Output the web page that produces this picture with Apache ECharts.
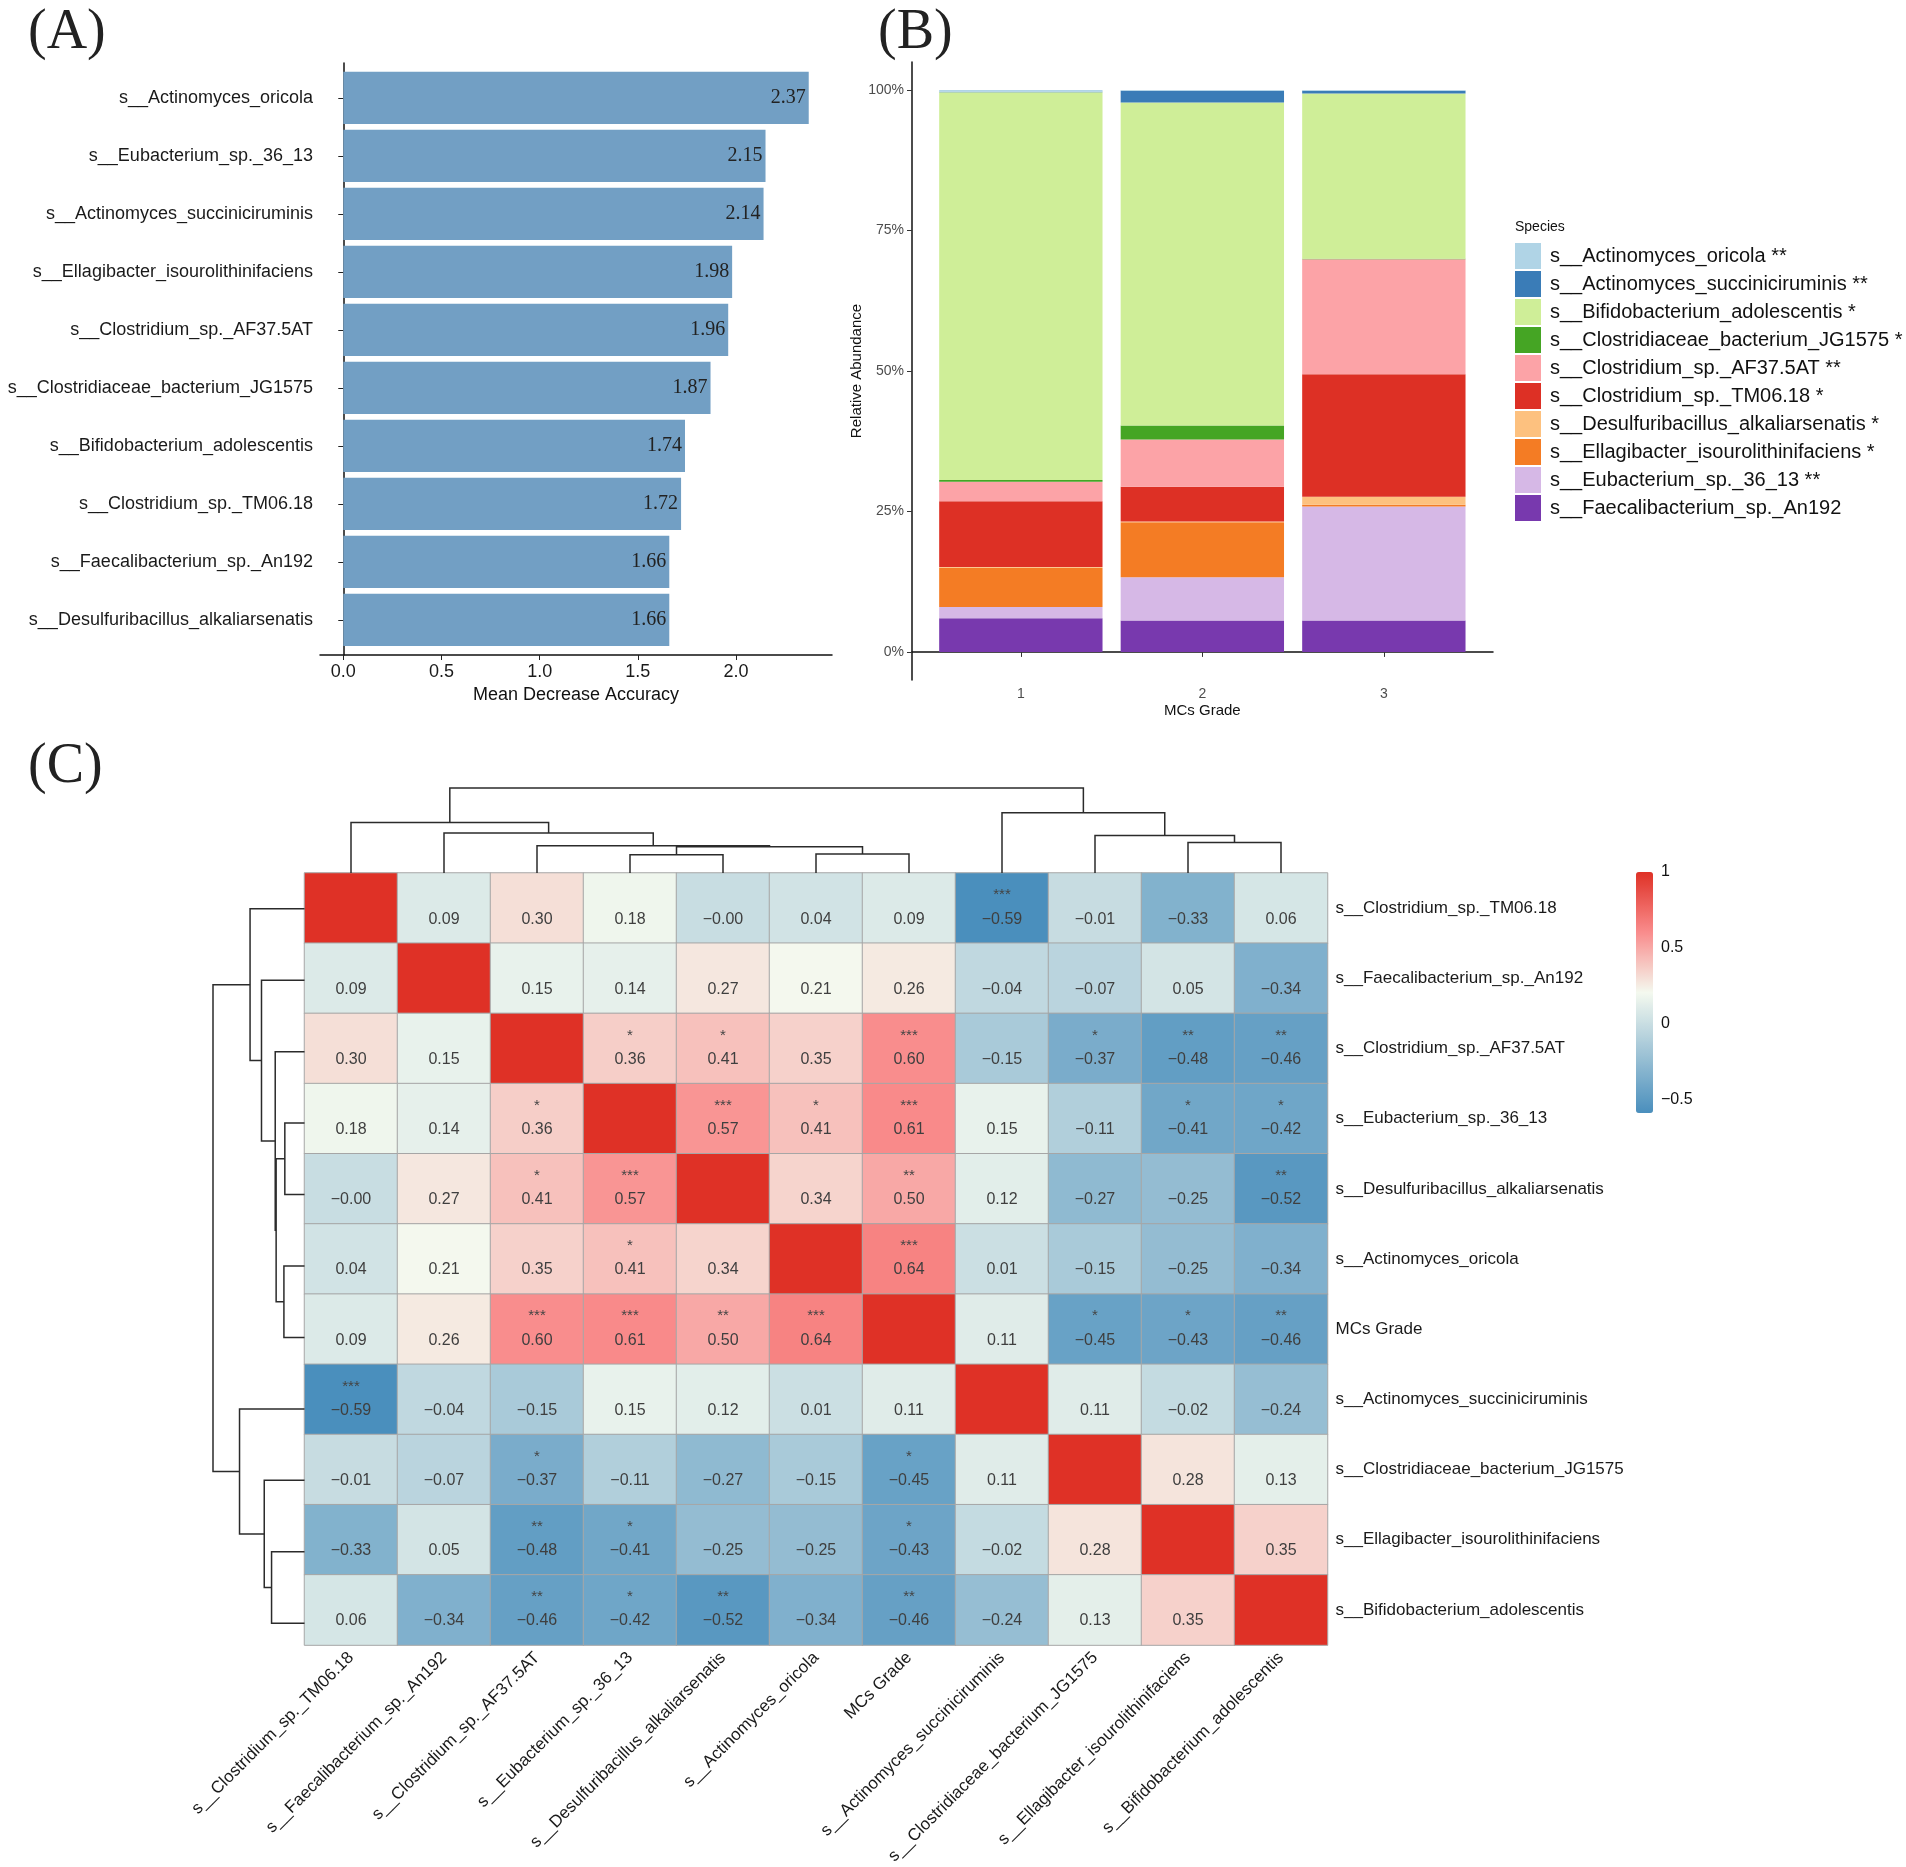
<!DOCTYPE html>
<html>
<head>
<meta charset="utf-8">
<script src="https://cdn.jsdelivr.net/npm/echarts@6/dist/echarts.min.js"></script>
<style>
  html, body { margin: 0; padding: 0; background: #fff; }
  #main { width: 1906px; height: 1867px; }
</style>
</head>
<body>
<div id="main"></div>
<script>
// (A) random forest importance
var featureNames = ['s__Actinomyces_oricola', 's__Eubacterium_sp._36_13', 's__Actinomyces_succiniciruminis',
  's__Ellagibacter_isourolithinifaciens', 's__Clostridium_sp._AF37.5AT', 's__Clostridiaceae_bacterium_JG1575',
  's__Bifidobacterium_adolescentis', 's__Clostridium_sp._TM06.18', 's__Faecalibacterium_sp._An192',
  's__Desulfuribacillus_alkaliarsenatis'];
var featureMDA = [2.37, 2.15, 2.14, 1.98, 1.96, 1.87, 1.74, 1.72, 1.66, 1.66];
var mdaTicks = [0, 0.5, 1, 1.5, 2];

// (B) relative abundance by grade (legend order), values in %
var grades = ['1', '2', '3'];
var speciesNames = ['s__Actinomyces_oricola', 's__Actinomyces_succiniciruminis', 's__Bifidobacterium_adolescentis',
  's__Clostridiaceae_bacterium_JG1575', 's__Clostridium_sp._AF37.5AT', 's__Clostridium_sp._TM06.18',
  's__Desulfuribacillus_alkaliarsenatis', 's__Ellagibacter_isourolithinifaciens', 's__Eubacterium_sp._36_13',
  's__Faecalibacterium_sp._An192'];
var speciesSig = ['**', '**', '*', '*', '**', '*', '*', '*', '**', ''];
var abOricola = [0.3, 0.1, 0.1];
var abSucciniciruminis = [0.1, 2.1, 0.5];
var abBifidobacterium = [69.0, 57.5, 29.4];
var abClostridiaceae = [0.3, 2.5, 0.1];
var abAF37 = [3.5, 8.4, 20.5];
var abTM06 = [11.7, 6.2, 21.8];
var abDesulfuribacillus = [0.1, 0.1, 1.4];
var abEllagibacter = [7.0, 9.8, 0.3];
var abEubacterium = [2.0, 7.7, 20.3];
var abFaecalibacterium = [6.0, 5.6, 5.6];
var speciesColors = ['#b0d4e6', '#3a7cb7', '#cfee98', '#45a524', '#fca3a7', '#dd3025', '#fdc17f', '#f47c24', '#d6b8e6', '#7839ae'];
var abundanceTicks = [0, 25, 50, 75, 100];

// (C) correlation heatmap (clustered order)
var corrNames = ['s__Clostridium_sp._TM06.18', 's__Faecalibacterium_sp._An192', 's__Clostridium_sp._AF37.5AT',
  's__Eubacterium_sp._36_13', 's__Desulfuribacillus_alkaliarsenatis', 's__Actinomyces_oricola', 'MCs Grade',
  's__Actinomyces_succiniciruminis', 's__Clostridiaceae_bacterium_JG1575', 's__Ellagibacter_isourolithinifaciens',
  's__Bifidobacterium_adolescentis'];
var corrValues = [
  [1, 0.09, 0.30, 0.18, -0.004, 0.04, 0.09, -0.59, -0.01, -0.33, 0.06],
  [0.09, 1, 0.15, 0.14, 0.27, 0.21, 0.26, -0.04, -0.07, 0.05, -0.34],
  [0.30, 0.15, 1, 0.36, 0.41, 0.35, 0.60, -0.15, -0.37, -0.48, -0.46],
  [0.18, 0.14, 0.36, 1, 0.57, 0.41, 0.61, 0.15, -0.11, -0.41, -0.42],
  [-0.004, 0.27, 0.41, 0.57, 1, 0.34, 0.50, 0.12, -0.27, -0.25, -0.52],
  [0.04, 0.21, 0.35, 0.41, 0.34, 1, 0.64, 0.01, -0.15, -0.25, -0.34],
  [0.09, 0.26, 0.60, 0.61, 0.50, 0.64, 1, 0.11, -0.45, -0.43, -0.46],
  [-0.59, -0.04, -0.15, 0.15, 0.12, 0.01, 0.11, 1, 0.11, -0.02, -0.24],
  [-0.01, -0.07, -0.37, -0.11, -0.27, -0.15, -0.45, 0.11, 1, 0.28, 0.13],
  [-0.33, 0.05, -0.48, -0.41, -0.25, -0.25, -0.43, -0.02, 0.28, 1, 0.35],
  [0.06, -0.34, -0.46, -0.42, -0.52, -0.34, -0.46, -0.24, 0.13, 0.35, 1]
];
var corrSig = [
  ['', '', '', '', '', '', '', '***', '', '', ''],
  ['', '', '', '', '', '', '', '', '', '', ''],
  ['', '', '', '*', '*', '', '***', '', '*', '**', '**'],
  ['', '', '*', '', '***', '*', '***', '', '', '*', '*'],
  ['', '', '*', '***', '', '', '**', '', '', '', '**'],
  ['', '', '', '*', '', '', '***', '', '', '', ''],
  ['', '', '***', '***', '**', '***', '', '', '*', '*', '**'],
  ['***', '', '', '', '', '', '', '', '', '', ''],
  ['', '', '*', '', '', '', '*', '', '', '', ''],
  ['', '', '**', '*', '', '', '*', '', '', '', ''],
  ['', '', '**', '*', '**', '', '**', '', '', '', '']
];
var colorbarTicks = [1, 0.5, 0, -0.5];
// hclust-style merges: negative = leaf (1-based), positive = earlier merge
var dendroMerge = [[-4, -5], [-6, -7], [1, 2], [-3, 3], [-2, 4], [-1, 5], [-10, -11], [-9, 7], [-8, 8], [6, 9]];
var dendroHeight = [0.215, 0.225, 0.31, 0.32, 0.47, 0.595, 0.36, 0.44, 0.71, 1.0];

var chart = echarts.init(document.getElementById('main'));
var sans = 'Liberation Sans, Arial, Helvetica, sans-serif';
var serif = 'Liberation Serif, Times New Roman, serif';

function minusSign(s) {
  return String(s).replace('-', '\u2212');
}

/** dendrogram segments [posA, hA, posB, hB, h] **/
function dendroSegments() {
  var pos = [], ht = [], segs = [];
  function child(id) {
    if (id < 0) return [-id - 1 + 0.5, 0];
    return [pos[id - 1], ht[id - 1]];
  }
  dendroMerge.forEach(function (m, k) {
    var a = child(m[0]), b = child(m[1]);
    segs.push([a[0], a[1], b[0], b[1], dendroHeight[k]]);
    pos[k] = (a[0] + b[0]) / 2;
    ht[k] = dendroHeight[k];
  });
  return segs;
}
var segs = dendroSegments();

function dendroRender(horizontal) {
  return function (params, api) {
    var pa = api.value(0), ha = api.value(1), pb = api.value(2), hb = api.value(3), h = api.value(4);
    var pts = horizontal
      ? [api.coord([ha, pa]), api.coord([h, pa]), api.coord([h, pb]), api.coord([hb, pb])]
      : [api.coord([pa, ha]), api.coord([pa, h]), api.coord([pb, h]), api.coord([pb, hb])];
    return {
      type: 'polyline',
      shape: {points: pts},
      style: {stroke: '#2b2b2b', lineWidth: 1.5, fill: null}
    };
  };
}

var heatData = [];
corrValues.forEach(function (row, i) {
  row.forEach(function (v, j) {
    heatData.push({value: [j, i, v], sig: corrSig[i][j], diag: i === j});
  });
});

var abundanceByName = [abOricola, abSucciniciruminis, abBifidobacterium, abClostridiaceae, abAF37, abTM06,
  abDesulfuribacillus, abEllagibacter, abEubacterium, abFaecalibacterium];
var legendNames = speciesNames.map(function (n, i) {
  return speciesSig[i] ? n + ' ' + speciesSig[i] : n;
});
var stackSeries = [];
for (var s = speciesNames.length - 1; s >= 0; s--) {
  stackSeries.push({
    name: legendNames[s],
    type: 'bar',
    stack: 'ab',
    xAxisIndex: 3,
    yAxisIndex: 3,
    barCategoryGap: '10%',
    itemStyle: {color: speciesColors[s]},
    data: abundanceByName[s]
  });
}

var option = {
  backgroundColor: '#fff',
  animation: false,
  textStyle: {fontFamily: sans},
  title: [
    {text: '(A)', left: 28, top: 5, padding: 0, textStyle: {fontFamily: serif, fontSize: 56, fontWeight: 'normal', color: '#222'}},
    {text: '(B)', left: 878, top: 5, padding: 0, textStyle: {fontFamily: serif, fontSize: 56, fontWeight: 'normal', color: '#222'}},
    {text: '(C)', left: 28, top: 739, padding: 0, textStyle: {fontFamily: serif, fontSize: 56, fontWeight: 'normal', color: '#222'}},
    {text: 'Species', left: 1515, top: 220, padding: 0, textStyle: {fontFamily: sans, fontSize: 14, fontWeight: 'normal', color: '#111'}}
  ],
  legend: {
    data: legendNames,
    orient: 'vertical',
    left: 1515,
    top: 243,
    padding: 0,
    itemWidth: 26,
    itemHeight: 26,
    itemGap: 2,
    icon: 'rect',
    selectedMode: false,
    textStyle: {fontSize: 20, color: '#111', padding: [0, 0, 0, 4]}
  },
  grid: [
    {left: 320, top: 63, width: 512, height: 592},          // 0 A axes
    {left: 320, top: 68.8, width: 512, height: 580},        // 1 A bars
    {left: 912, top: 62, width: 581, height: 618},          // 2 B axes
    {left: 930.1, top: 62, width: 544.5, height: 618},      // 3 B bars
    {left: 304.5, top: 873, width: 1023, height: 786},      // 4 heatmap
    {left: 213, top: 873, width: 91.5, height: 786},        // 5 row dendrogram
    {left: 304.5, top: 788, width: 1023, height: 85},       // 6 column dendrogram
    {left: 1636, top: 872, width: 17, height: 241}          // 7 colour bar labels
  ],
  xAxis: [
    {
      gridIndex: 0, type: 'value', min: -0.1185, max: 2.4885,
      axisLine: {show: true, lineStyle: {color: '#111', width: 1.5}},
      axisTick: {show: true, length: 5, customValues: mdaTicks, lineStyle: {color: '#222'}},
      axisLabel: {customValues: mdaTicks, margin: 8, fontSize: 18, color: '#1a1a1a',
        formatter: function (v) { return v.toFixed(1); }},
      splitLine: {show: false},
      name: 'Mean Decrease Accuracy', nameLocation: 'middle', nameGap: 31,
      nameTextStyle: {fontSize: 18, color: '#111'}
    },
    {gridIndex: 1, type: 'value', min: -0.1185, max: 2.4885, show: false},
    {
      gridIndex: 2, type: 'value', min: 0, max: 1,
      axisLine: {show: true, lineStyle: {color: '#111', width: 1.5}},
      axisTick: {show: false}, axisLabel: {show: false}, splitLine: {show: false}
    },
    {
      gridIndex: 3, type: 'category', data: grades,
      axisLine: {show: false},
      axisTick: {show: true, alignWithLabel: true, length: 5, lineStyle: {color: '#333'}},
      axisLabel: {margin: 7, fontSize: 14, color: '#4d4d4d'},
      name: 'MCs Grade', nameLocation: 'middle', nameGap: 23,
      nameTextStyle: {fontSize: 15, color: '#111'}
    },
    {
      gridIndex: 4, type: 'category', data: corrNames,
      axisLine: {show: false}, axisTick: {show: false},
      axisLabel: {rotate: 45, margin: 10, fontSize: 17, color: '#1a1a1a', interval: 0}
    },
    {gridIndex: 5, type: 'value', min: 0, max: 1, inverse: true, show: false},
    {gridIndex: 6, type: 'value', min: 0, max: 11, show: false},
    {gridIndex: 7, type: 'value', min: 0, max: 1, show: false}
  ],
  yAxis: [
    {
      gridIndex: 0, type: 'value', min: 0, max: 1,
      axisLine: {show: true, lineStyle: {color: '#111', width: 1.5}},
      axisTick: {show: false}, axisLabel: {show: false}, splitLine: {show: false}
    },
    {
      gridIndex: 1, type: 'category', data: featureNames, inverse: true,
      axisLine: {show: false},
      axisTick: {show: true, alignWithLabel: true, length: 5, lineStyle: {color: '#222'}},
      axisLabel: {margin: 7, fontSize: 18, color: '#1a1a1a'}
    },
    {
      gridIndex: 2, type: 'value', min: -5, max: 105,
      axisLine: {show: true, lineStyle: {color: '#111', width: 1.5}},
      axisTick: {show: true, length: 5, customValues: abundanceTicks, lineStyle: {color: '#333'}},
      axisLabel: {customValues: abundanceTicks, margin: 8, fontSize: 14, color: '#4d4d4d',
        formatter: function (v) { return v + '%'; }},
      splitLine: {show: false},
      name: 'Relative Abundance', nameLocation: 'middle', nameGap: 48, nameRotate: 90,
      nameTextStyle: {fontSize: 15, color: '#111'}
    },
    {gridIndex: 3, type: 'value', min: -5, max: 105, show: false},
    {
      gridIndex: 4, type: 'category', data: corrNames, inverse: true, position: 'right',
      axisLine: {show: false}, axisTick: {show: false},
      axisLabel: {margin: 8, fontSize: 17, color: '#1a1a1a', interval: 0}
    },
    {gridIndex: 5, type: 'value', min: 0, max: 11, inverse: true, show: false},
    {gridIndex: 6, type: 'value', min: 0, max: 1, show: false},
    {
      gridIndex: 7, type: 'value', min: -0.59, max: 1, position: 'right',
      axisLine: {show: false}, axisTick: {show: false}, splitLine: {show: false},
      axisLabel: {customValues: colorbarTicks, margin: 8, fontSize: 16, color: '#111',
        formatter: function (v) { return minusSign(v); }}
    }
  ],
  visualMap: {
    type: 'continuous',
    seriesIndex: 1,
    min: -0.59,
    max: 1,
    calculable: false,
    hoverLink: false,
    left: 1636,
    top: 872,
    padding: 0,
    itemWidth: 17,
    itemHeight: 241,
    text: null,
    inRange: {color: ['#4a8fbd', '#a0c4d6', '#f4f9ef', '#f98c8c', '#df3126']}
  },
  series: [
    {
      name: 'MDA',
      type: 'bar',
      xAxisIndex: 1,
      yAxisIndex: 1,
      barCategoryGap: '10%',
      itemStyle: {color: '#729fc4'},
      label: {
        show: true, position: 'insideRight', distance: 3,
        fontFamily: serif, fontSize: 20, color: '#222',
        formatter: function (p) { return p.value.toFixed(2); }
      },
      data: featureMDA
    },
    {
      name: 'corr',
      type: 'heatmap',
      xAxisIndex: 4,
      yAxisIndex: 4,
      itemStyle: {borderColor: '#a6a6a6', borderWidth: 1},
      emphasis: {disabled: true},
      label: {
        show: true,
        offset: [0, -1],
        formatter: function (p) {
          if (p.data.diag) return '';
          return '{s|' + (p.data.sig || ' ') + '}\n{v|' + minusSign(p.data.value[2].toFixed(2)) + '}';
        },
        rich: {
          s: {fontSize: 15, color: '#444', lineHeight: 24, align: 'center'},
          v: {fontSize: 16, color: '#3f3f3f', lineHeight: 24, align: 'center'}
        }
      },
      data: heatData
    },
    {
      name: 'rowDendro',
      type: 'custom',
      xAxisIndex: 5,
      yAxisIndex: 5,
      renderItem: dendroRender(true),
      data: segs,
      silent: true
    },
    {
      name: 'colDendro',
      type: 'custom',
      xAxisIndex: 6,
      yAxisIndex: 6,
      renderItem: dendroRender(false),
      data: segs,
      silent: true
    }
  ].concat(stackSeries)
};

chart.setOption(option);
</script>
</body>
</html>
